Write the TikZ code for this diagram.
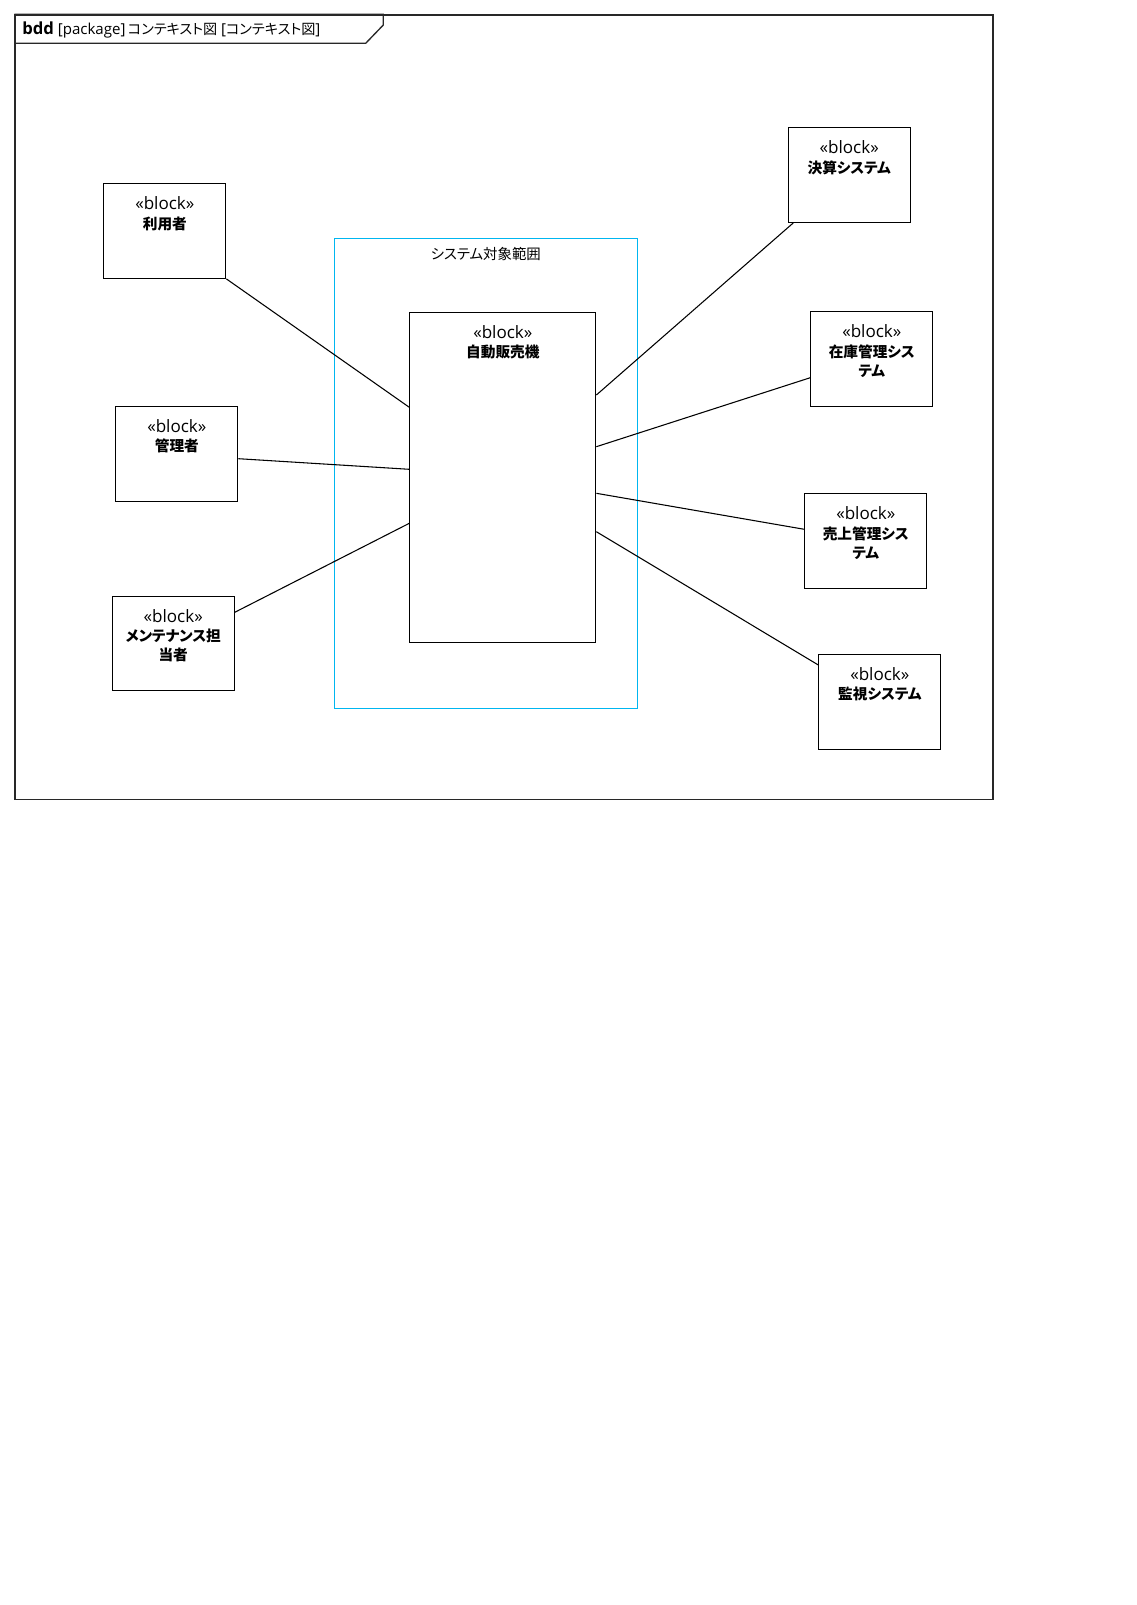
\documentclass[tikz,border=0pt]{standalone}
\usepackage{fontspec}
\setmainfont{Open Sans}
\newfontfamily\jp[RawFeature=+palt]{Noto Sans CJK JP}
\usetikzlibrary{calc}
\definecolor{scopecol}{RGB}{0,182,240}
\definecolor{framecol}{RGB}{40,40,40}
\tikzset{
  blk/.style={draw, line width=0.8pt, minimum width=91.5pt, minimum height=70.9pt,
    anchor=north west, inner sep=0pt},
  conn/.style={draw, line width=0.8pt},
  blktext/.style={anchor=north, align=center, inner sep=0pt, yshift=-10pt,
    font=\jp\bfseries\fontsize{11}{14.5}\selectfont},
}
\newcommand{\stereo}{{\rmfamily\mdseries\fontsize{12.8}{14.5}\selectfont «block»}}
\begin{document}
\begin{tikzpicture}[x=0.75pt, y=-0.75pt]
\fill[white] (0,0) rectangle (1137,1605);
\useasboundingbox (0,0) rectangle (1137,1605);
% frame
\node[draw=framecol, line width=1.1pt, minimum width=733.5pt, minimum height=588.3pt,
  anchor=north west, inner sep=0pt] (frame) at (14.3,14.3) {};
\draw[framecol, line width=1pt] (frame.north west) -- (383.3,14.3) -- (383.3,25) -- (365.7,43.3) -- (14.3,43.3);
\node[anchor=west, inner sep=0pt, font=\fontsize{11.3}{13}\selectfont] (title) at (22,29.5)
  {{\bfseries\fontsize{12.5}{13}\selectfont bdd} [package]{\jp\fontsize{10.6}{13}\selectfont\,コンテキスト図} [{\jp\fontsize{10.6}{13}\selectfont コンテキスト図}]};
% scope
\node[draw=scopecol, line width=0.8pt, minimum width=227.25pt, minimum height=352.95pt,
  anchor=north west, inner sep=0pt] (scope) at (334.3,237.7) {};
\node[font=\jp\fontsize{10.8}{13}\selectfont, inner sep=0pt] (scopelabel) at (485.8,254.3) {システム対象範囲};
% blocks
\node[blk, minimum width=139.5pt, minimum height=247.95pt,
  label={[blktext]north:\stereo\\自動販売機}] (auto) at (409.3,311.7) {};
\node[blk, label={[blktext]north:\stereo\\利用者}] (riyo) at (103.3,183.3) {};
\node[blk, label={[blktext]north:\stereo\\管理者}] (kanri) at (115.3,406) {};
\node[blk, label={[blktext]north:\stereo\\メンテナンス担\\当者}] (mente) at (111.7,595.7) {};
\node[blk, label={[blktext]north:\stereo\\決算システム}] (kessan) at (787.7,127.3) {};
\node[blk, label={[blktext]north:\stereo\\在庫管理シス\\テム}] (zaiko) at (810.3,311.3) {};
\node[blk, label={[blktext]north:\stereo\\売上管理シス\\テム}] (uriage) at (804.3,493.3) {};
\node[blk, label={[blktext]north:\stereo\\監視システム}] (kanshi) at (818.3,654) {};
% connectors
\draw[conn] (riyo.south east) -- ($(auto.north west)+(0,95.6)$);
\draw[conn] ($(kanri.north east)+(0,52.7)$) -- ($(auto.north west)+(0,157.6)$);
\draw[conn] ($(mente.north east)+(0,16.6)$) -- ($(auto.north west)+(0,211.6)$);
\draw[conn] ($(kessan.south west)+(5.6,0)$) -- ($(auto.north east)+(0,83.3)$);
\draw[conn] ($(zaiko.north west)+(0,66.4)$) -- ($(auto.north east)+(0,135)$);
\draw[conn] ($(uriage.north west)+(0,36)$) -- ($(auto.north east)+(0,181.6)$);
\draw[conn] ($(kanshi.north west)+(0,11)$) -- ($(auto.north east)+(0,220)$);
\end{tikzpicture}
\end{document}
